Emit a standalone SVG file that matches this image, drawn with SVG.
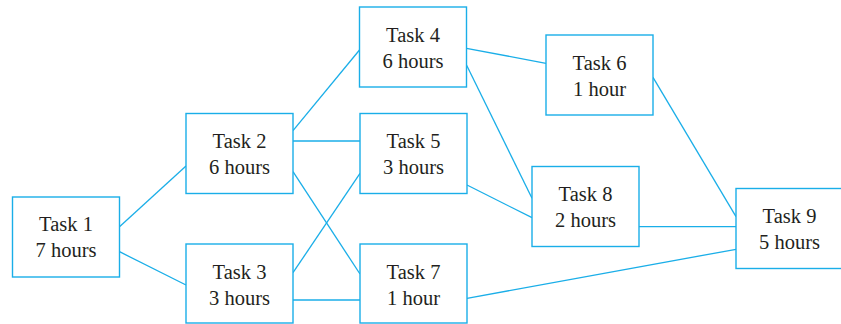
<svg xmlns="http://www.w3.org/2000/svg" width="841" height="324" viewBox="0 0 841 324">
<style>
.box{fill:#fff;stroke:#1aaee8;stroke-width:1.4}
.ln{stroke:#1aaee8;stroke-width:1.3;fill:none}
text{font-family:"Liberation Serif","Times New Roman",serif;font-size:20.5px;fill:#231f20;text-anchor:middle}
</style>
<rect width="841" height="324" fill="#fff"/>
<g id="connectors">
<line class="ln" x1="119.5" y1="226.7" x2="186" y2="166"/>
<line class="ln" x1="119.5" y1="251.7" x2="186" y2="285"/>
<line class="ln" x1="293" y1="130.7" x2="359.5" y2="50"/>
<line class="ln" x1="293" y1="141" x2="360" y2="141"/>
<line class="ln" x1="293" y1="171.7" x2="360" y2="274"/>
<line class="ln" x1="293" y1="272.7" x2="360" y2="173.3"/>
<line class="ln" x1="293" y1="300" x2="360" y2="300"/>
<line class="ln" x1="466.5" y1="48.3" x2="546" y2="63.3"/>
<line class="ln" x1="466.5" y1="65" x2="532" y2="198.3"/>
<line class="ln" x1="467" y1="185" x2="532" y2="217.7"/>
<line class="ln" x1="467" y1="298.3" x2="736" y2="249.3"/>
<line class="ln" x1="653" y1="77.3" x2="736" y2="216.7"/>
<line class="ln" x1="639" y1="226.7" x2="736" y2="226.7"/>
</g>
<g id="task1"><rect class="box" x="12.5" y="197" width="107" height="80"/><text x="66" y="231">Task 1</text><text x="66" y="257">7 hours</text></g>
<g id="task2"><rect class="box" x="186" y="113.5" width="107" height="80"/><text x="239.5" y="148">Task 2</text><text x="239.5" y="174">6 hours</text></g>
<g id="task3"><rect class="box" x="186" y="244" width="107" height="79"/><text x="239.5" y="278.5">Task 3</text><text x="239.5" y="304.5">3 hours</text></g>
<g id="task4"><rect class="box" x="359.5" y="7" width="107" height="80"/><text x="413" y="41.5">Task 4</text><text x="413" y="67.5">6 hours</text></g>
<g id="task5"><rect class="box" x="360" y="113.5" width="107" height="80"/><text x="413.5" y="148">Task 5</text><text x="413.5" y="174">3 hours</text></g>
<g id="task6"><rect class="box" x="546" y="35" width="107" height="80"/><text x="599.5" y="69.5">Task 6</text><text x="599.5" y="95.5">1 hour</text></g>
<g id="task7"><rect class="box" x="360" y="244" width="107" height="79"/><text x="413.5" y="278.5">Task 7</text><text x="413.5" y="304.5">1 hour</text></g>
<g id="task8"><rect class="box" x="532" y="166.5" width="107" height="80"/><text x="585.5" y="201">Task 8</text><text x="585.5" y="227">2 hours</text></g>
<g id="task9"><rect class="box" x="736" y="188.5" width="107" height="80"/><text x="789.5" y="223">Task 9</text><text x="789.5" y="249">5 hours</text></g>
</svg>
